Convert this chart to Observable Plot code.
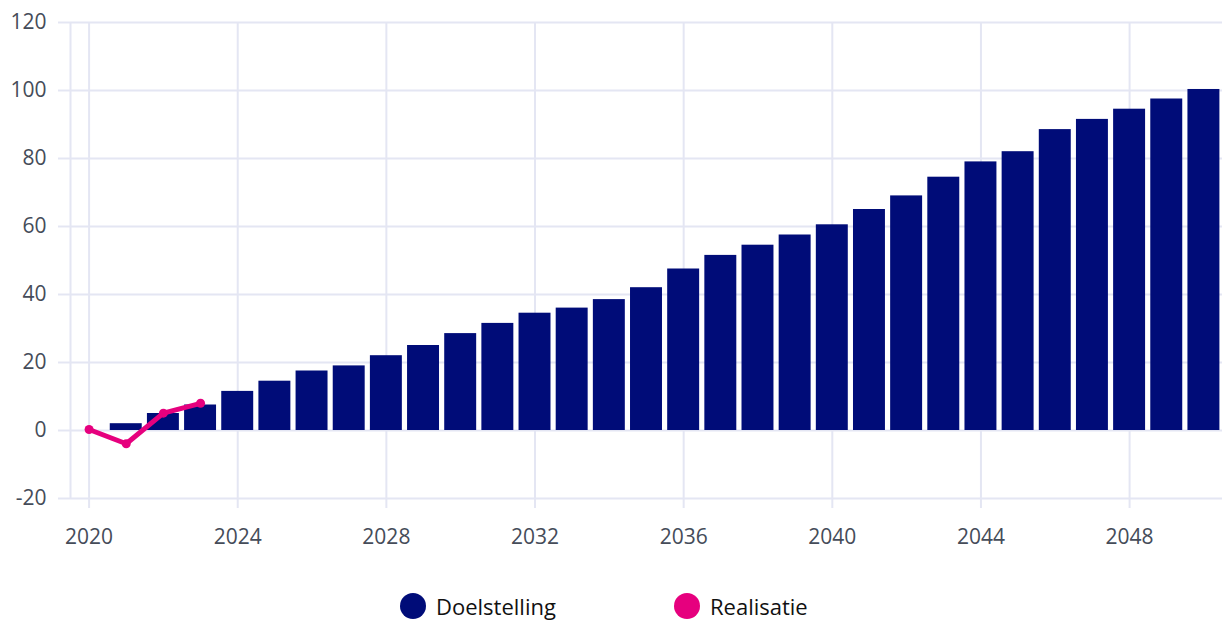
<!DOCTYPE html>
<html>
<head>
<meta charset="utf-8">
<script src="https://cdn.jsdelivr.net/npm/d3@7"></script>
<script src="https://cdn.jsdelivr.net/npm/@observablehq/plot@0.6"></script>
<style>
  html, body { margin: 0; padding: 0; background: #fff; }
  body { position: relative; width: 1224px; height: 620px; overflow: hidden; font-family: "Open Sans", sans-serif; }
  #legend { position: absolute; left: 0; top: 591px; width: 1224px; height: 30px; }
  .item { position: absolute; top: 0; height: 30px; display: flex; align-items: center; font-size: 22px; line-height: 30px; color: #111; }
  .dot { width: 26px; height: 26px; border-radius: 50%; margin-right: 10px; }
</style>
</head>
<body>
<div id="chart"></div>
<div id="legend"></div>
<script>
const years = [2020, 2021, 2022, 2023, 2024, 2025, 2026, 2027, 2028, 2029, 2030, 2031, 2032, 2033, 2034, 2035, 2036, 2037, 2038, 2039, 2040, 2041, 2042, 2043, 2044, 2045, 2046, 2047, 2048, 2049, 2050];
const doelstelling = [0, 2, 5, 7.5, 11.5, 14.5, 17.5, 19, 22, 25, 28.5, 31.5, 34.5, 36, 38.5, 42, 47.5, 51.5, 54.5, 57.5, 60.5, 65, 69, 74.5, 79, 82, 88.5, 91.5, 94.5, 97.5, 100.3];
const realYears = [2020, 2021, 2022, 2023];
const realisatie = [0.3, -3.9, 5.1, 8];
const xTicks = [2020, 2024, 2028, 2032, 2036, 2040, 2044, 2048];
const yTicks = [-20, 0, 20, 40, 60, 80, 100, 120];
const seriesNames = ["Doelstelling", "Realisatie"];
const colors = ["#000c78", "#e6007e"];

const bars = years.map((y, i) => ({year: y, value: doelstelling[i]}));
const real = realYears.map((y, i) => ({year: y, value: realisatie[i]}));
const grid = "#e4e6f3";
const halfBar = 0.43;

const chart = Plot.plot({
  width: 1224,
  height: 580,
  marginLeft: 70,
  marginRight: 2,
  marginTop: 22,
  marginBottom: 82,
  style: {fontFamily: "Open Sans, sans-serif", fontSize: "21px", color: "#454c59", background: "#fff"},
  x: {type: "linear", domain: [2019.5, 2050.5]},
  y: {domain: [-20, 120]},
  marks: [
    Plot.gridY(yTicks, {stroke: grid, strokeOpacity: 1, strokeWidth: 2}),
    Plot.gridX(xTicks, {stroke: grid, strokeOpacity: 1, strokeWidth: 2}),
    Plot.ruleX([2019.5], {stroke: grid, strokeWidth: 2}),
    Plot.axisY(yTicks, {tickSize: 12, tickPadding: 12, fontSize: 21, stroke: grid, strokeWidth: 2, strokeOpacity: 1, fill: "#454c59", label: null, tickFormat: d => String(d)}),
    Plot.axisX(xTicks, {tickSize: 10, tickPadding: 21, fontSize: 21, stroke: grid, strokeWidth: 2, strokeOpacity: 1, fill: "#454c59", label: null, tickFormat: d => String(d)}),
    Plot.rectY(bars, {x1: d => d.year - halfBar, x2: d => d.year + halfBar, y: "value", fill: colors[0]}),
    Plot.line(real, {x: "year", y: "value", stroke: colors[1], strokeWidth: 5}),
    Plot.dot(real, {x: "year", y: "value", fill: colors[1], r: 4.5})
  ]
});
document.getElementById("chart").appendChild(chart);

const legend = document.getElementById("legend");
const lefts = [400, 674];
seriesNames.forEach((name, i) => {
  const item = document.createElement("div");
  item.className = "item";
  item.style.left = lefts[i] + "px";
  const dot = document.createElement("span");
  dot.className = "dot";
  dot.style.background = colors[i];
  const label = document.createElement("span");
  label.textContent = name;
  item.appendChild(dot);
  item.appendChild(label);
  legend.appendChild(item);
});
</script>
</body>
</html>
